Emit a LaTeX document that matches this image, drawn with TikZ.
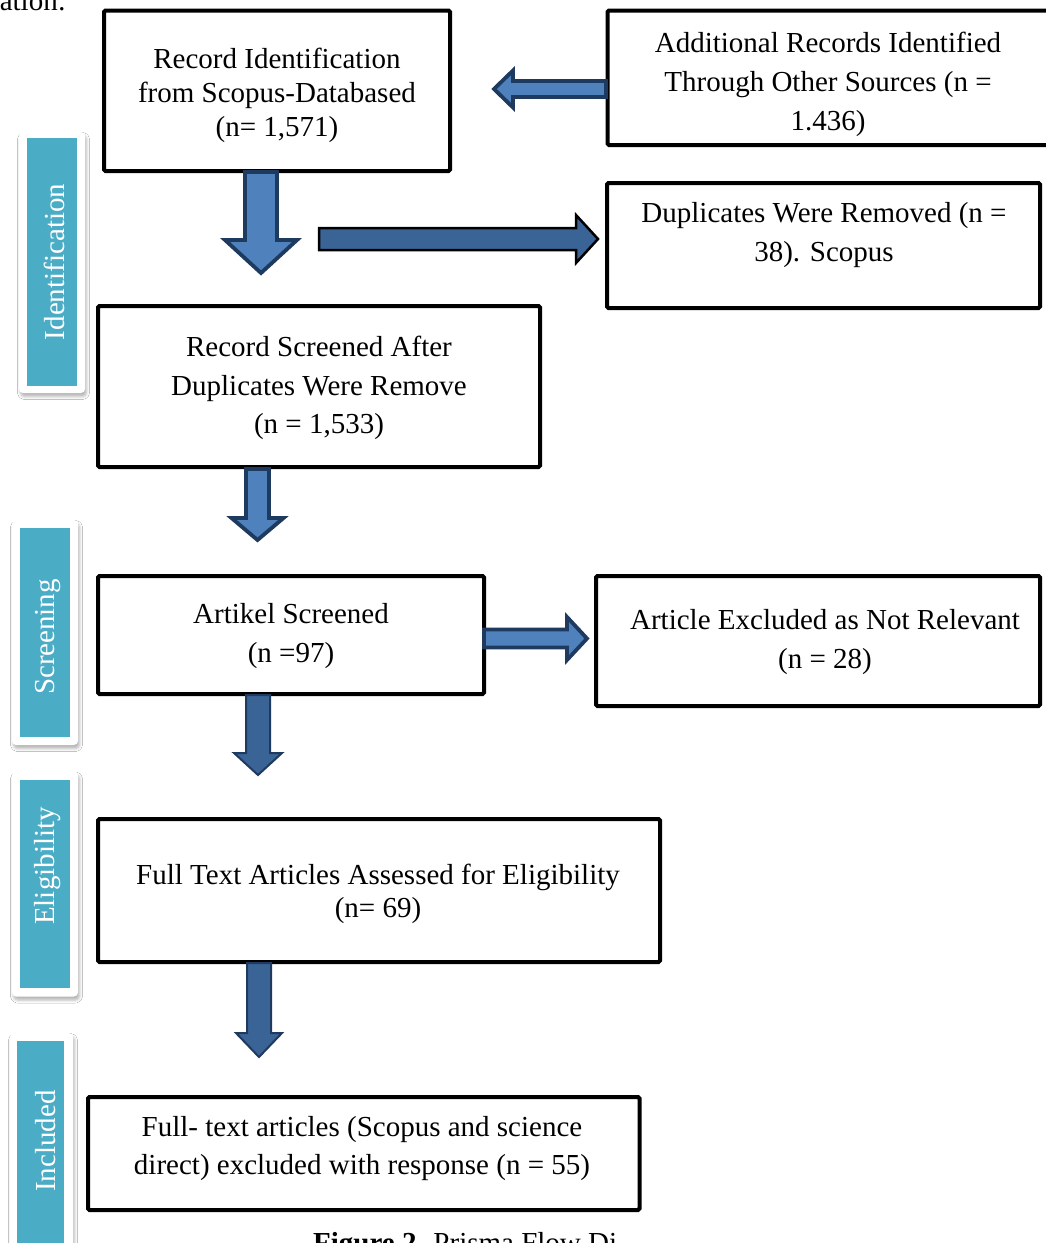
\documentclass[tikz,border=0pt]{standalone}
\usepackage{fontspec}
\setmainfont{Liberation Serif}
\usetikzlibrary{shadows.blur}
\definecolor{teal}{HTML}{4BACC6}
\definecolor{arrowlight}{HTML}{4F81BD}
\definecolor{arrowdark}{HTML}{3A6496}
\definecolor{arrowborder}{HTML}{1F3A5F}
\newcommand\blkdown[7]{\draw[#1] ({#2-#3},#4) -- ({#2+#3},#4) -- ({#2+#3},#5) -- ({#2+#6},#5) -- (#2,#7) -- ({#2-#6},#5) -- ({#2-#3},#5) -- cycle;}
\newcommand\blkhoriz[7]{\draw[#1] (#4,{#2-#3}) -- (#5,{#2-#3}) -- (#5,{#2-#6}) -- (#7,#2) -- (#5,{#2+#6}) -- (#5,{#2+#3}) -- (#4,{#2+#3}) -- cycle;}
\begin{document}
\begin{tikzpicture}[x=1pt,y=-1pt,
  box/.style={draw=black, line width=4pt, rounded corners=1.5pt, inner sep=0pt},
  txt/.style={align=center, inner sep=0pt},
  frame/.style={fill=white, rounded corners=4pt, inner sep=0pt,
     blur shadow={shadow xshift=1.5pt, shadow yshift=-3.5pt, shadow blur radius=3pt, shadow opacity=30}},
  tealbar/.style={fill=teal, inner sep=0pt},
  sidetxt/.style={text=white, rotate=90, inner sep=0pt, font=\fontsize{29}{34}\selectfont},
  lightarrow/.style={fill=arrowlight, draw=arrowborder, line width=3.8pt, line join=miter},
  darkarrow/.style={fill=arrowdark, draw=arrowborder, line width=2pt, line join=miter},
  blackarrow/.style={fill=arrowdark, draw=black, line width=2.5pt, line join=miter}]
\useasboundingbox (0,0) rectangle (1046,1243);
\fill[white] (0,0) rectangle (1046,1243);

% cut-off text at the top and the caption at the bottom
\node[anchor=base east, inner sep=0pt, font=\fontsize{29}{34}\selectfont] (topcut) at (66,10) {ation:};
\node[anchor=base west, inner sep=0pt, font=\fontsize{29}{34}\selectfont] (caption) at (313,1252) {\textbf{Figure 2.} Prisma Flow Di};

% side labels
\node[frame, minimum width=66pt, minimum height=261pt] (f1) at (52,262.5) {};
\node[tealbar, minimum width=50pt, minimum height=248pt] (s1) at (52,262) {};
\node[sidetxt] (l1) at (54,262) {Identification};

\node[frame, minimum width=66pt, minimum height=225pt] (f2) at (45,632.5) {};
\node[tealbar, minimum width=50pt, minimum height=209pt] (s2) at (45,632.5) {};
\node[sidetxt] (l2) at (48,637) {Screening};

\node[frame, minimum width=66pt, minimum height=225pt] (f3) at (45,884) {};
\node[tealbar, minimum width=50pt, minimum height=208pt] (s3) at (45,884) {};
\node[sidetxt] (l3) at (48,866) {Eligibility};

\node[frame, minimum width=63pt, minimum height=240pt] (f4) at (41.5,1153) {};
\node[tealbar, minimum width=47pt, minimum height=230pt] (s4) at (40.5,1156) {};
\node[sidetxt] (l4) at (46,1141) {Included};

% boxes
\node[box, minimum width=346pt, minimum height=160.5pt] (b1) at (277,90.75) {};
\node[box, minimum width=447.5pt, minimum height=134.5pt] (b2) at (831.25,77.75) {};
\node[box, minimum width=433pt, minimum height=125pt] (b3) at (823.5,245.5) {};
\node[box, minimum width=442pt, minimum height=161pt] (b4) at (319,386.5) {};
\node[box, minimum width=386pt, minimum height=118pt] (b5) at (291,635) {};
\node[box, minimum width=444pt, minimum height=130pt] (b6) at (818,641) {};
\node[box, minimum width=562pt, minimum height=143pt] (b7) at (379,890.5) {};
\node[box, minimum width=551.5pt, minimum height=113pt] (b8) at (363.75,1153.5) {};

% texts
\node[txt, font=\fontsize{29}{34}\selectfont] (t1) at (277,95) {Record Identification\\from Scopus-Databased\\(n= 1,571)};
\node[txt, font=\fontsize{29}{39}\selectfont] (t2) at (828,84) {Additional Records Identified\\Through Other Sources (n =\\1.436)};
\node[txt, font=\fontsize{29}{39}\selectfont] (t3) at (824,235) {Duplicates Were Removed (n =\\38). Scopus};
\node[txt, font=\fontsize{29}{38.5}\selectfont] (t4) at (319,388) {Record Screened After\\Duplicates Were Remove\\(n = 1,533)};
\node[txt, font=\fontsize{29}{39}\selectfont] (t5) at (291,636) {Artikel Screened\\(n =97)};
\node[txt, font=\fontsize{29}{39}\selectfont] (t6) at (825,642) {Article Excluded as Not Relevant\\(n = 28)};
\node[txt, font=\fontsize{29}{33}\selectfont] (t7) at (378,894) {Full Text Articles Assessed for Eligibility\\(n= 69)};
\node[txt, font=\fontsize{29}{38}\selectfont] (t8) at (362,1149) {Full- text articles (Scopus and science\\direct) excluded with response (n = 55)};

% block arrows
\blkdown{lightarrow}{261}{16}{172}{240}{36}{273}
\blkhoriz{lightarrow}{89}{8}{606}{513}{18.5}{494}
\blkhoriz{blackarrow}{239}{11}{319}{576}{24}{598}
\blkdown{lightarrow}{257.5}{11.5}{469}{518}{26}{540}
\blkhoriz{lightarrow}{638.5}{9}{484}{567}{21.5}{587}
\blkdown{darkarrow}{258}{12}{695}{753}{24}{775}
\blkdown{darkarrow}{259}{12}{963}{1033}{23}{1057}
\end{tikzpicture}
\end{document}
